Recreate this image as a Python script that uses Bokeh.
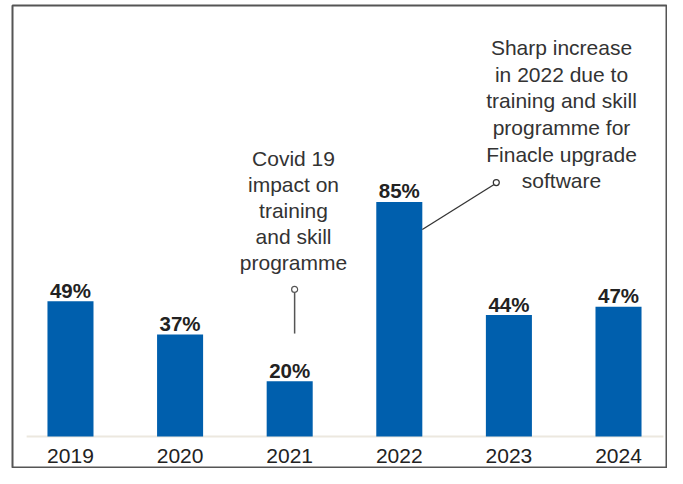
from bokeh.plotting import figure
from bokeh.models import Range1d, ColumnDataSource
from bokeh.core.properties import value
from bokeh.embed import file_html
from bokeh.resources import INLINE

# ---- data ----
years = [2019, 2020, 2021, 2022, 2023, 2024]
year_labels = ["2019", "2020", "2021", "2022", "2023", "2024"]
shares = [49, 37, 20, 85, 44, 47]
share_labels = ["49%", "37%", "20%", "85%", "44%", "47%"]

covid_note = ["Covid 19", "impact on", "training", "and skill", "programme"]
sharp_note = ["Sharp increase", "in 2022 due to", "training and skill",
              "programme for", "Finacle upgrade", "software"]

FONT = "Liberation Sans"
BAR = "#005FAD"

p = figure(width=667, height=468, output_backend="svg", toolbar_location=None,
           x_range=Range1d(2019 - 0.529, 2019 + 5.447),
           y_range=Range1d(-11.59, 156.16),
           min_border=0, min_border_left=12, min_border_right=0,
           min_border_top=5, min_border_bottom=0)
p.xaxis.visible = False
p.yaxis.visible = False
p.grid.visible = False
p.background_fill_color = "white"
p.border_fill_color = "white"
p.outline_line_color = "#555555"
p.outline_line_width = 2

src = ColumnDataSource(dict(x=years, top=shares, lab=share_labels, yl=year_labels,
                            ylab=[s + 4.0 for s in shares],
                            ybase=[-6.9] * len(years)))

# baseline
p.segment(x0=[years[0] - 0.4], x1=[years[-1] + 0.41], y0=[0], y1=[0],
          line_color="#ECE8DF", line_width=2)

p.vbar(x="x", top="top", bottom=0, width=0.42, source=src,
       fill_color=BAR, line_color=None)

p.text(x="x", y="ylab", text="lab", source=src, text_align="center",
       text_baseline="alphabetic", text_font=value(FONT), text_font_size="20.5px",
       text_font_style="bold", text_color="#222222")

p.text(x="x", y="ybase", text="yl", source=src, text_align="center",
       text_baseline="middle", text_font=value(FONT), text_font_size="21px",
       text_color="#222222")

step = 26 / 2.76

# covid annotation (2021)
cx = years[2] + 0.035
cy0 = 100.7
p.text(x=[cx] * len(covid_note), y=[cy0 - i * step for i in range(len(covid_note))],
       text=covid_note, text_align="center", text_baseline="middle",
       text_font=value(FONT), text_font_size="21px", text_color="#333333")
p.segment(x0=[years[2] + 0.045], x1=[years[2] + 0.045], y0=[shares[2] + 17.3],
          y1=[shares[2] + 32.2], line_color="#555555", line_width=1.5)
p.scatter(x=[years[2] + 0.045], y=[shares[2] + 33.3], size=6, marker="circle",
          fill_color="white", line_color="#555555", line_width=1.2)

# sharp annotation (2022)
sx = years[3] + 1.48
sy0 = 140.9
p.text(x=[sx] * len(sharp_note), y=[sy0 - i * 9.64 for i in range(len(sharp_note))],
       text=sharp_note, text_align="center", text_baseline="middle",
       text_font=value(FONT), text_font_size="21px", text_color="#333333")
p.segment(x0=[years[3] + 0.21], x1=[years[3] + 0.865], y0=[75.0], y1=[91.3],
          line_color="#333333", line_width=1.3)
p.scatter(x=[years[3] + 0.885], y=[92.0], size=6, marker="circle",
          fill_color="white", line_color="#333333", line_width=1.2)

open("out.html", "w").write(file_html(p, INLINE))
